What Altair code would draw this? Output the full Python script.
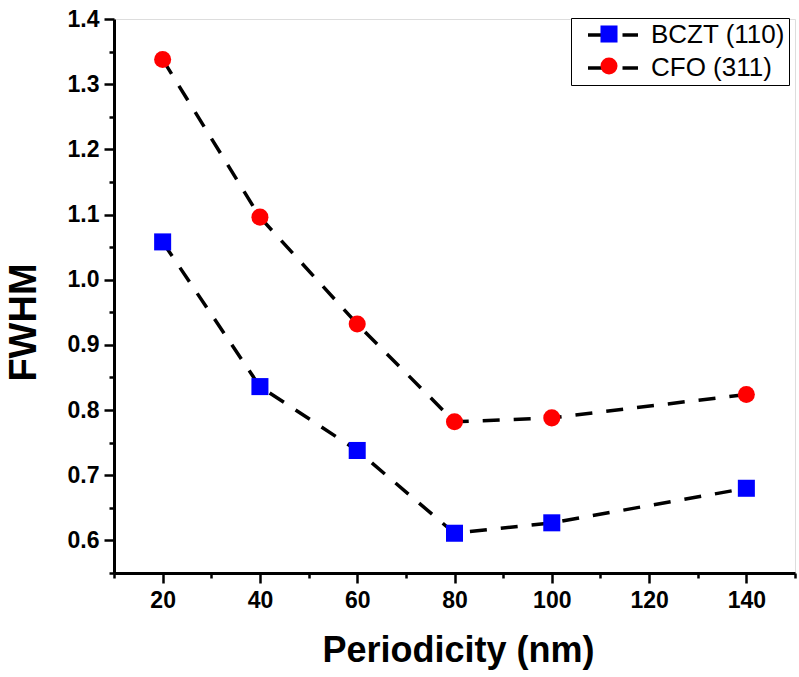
import altair as alt
import pandas as pd

periodicity = [20, 40, 60, 80, 100, 140]
bczt = [1.058, 0.836, 0.738, 0.611, 0.627, 0.680]
cfo = [1.338, 1.096, 0.932, 0.782, 0.788, 0.824]
series_names = ["BCZT (110)", "CFO (311)"]
x_major = [20, 40, 60, 80, 100, 120, 140]
x_minor = [10, 30, 50, 70, 90, 110, 130, 150]
y_major = [0.6, 0.7, 0.8, 0.9, 1.0, 1.1, 1.2, 1.3, 1.4]
y_minor = [0.55, 0.65, 0.75, 0.85, 0.95, 1.05, 1.15, 1.25, 1.35]

rows = []
for p, v in zip(periodicity, bczt):
    rows.append({"p": p, "fwhm": v, "series": series_names[0], "line": series_names[0]})
for p, v in zip(periodicity, cfo):
    rows.append({"p": p, "fwhm": v, "series": series_names[1], "line": series_names[1]})
df = pd.DataFrame(rows)

FONT = "Liberation Sans"
xscale = alt.Scale(domain=[10, 150], nice=False, zero=False)
yscale = alt.Scale(domain=[0.55, 1.4], nice=False, zero=False)

base = alt.Chart(df)

lines = base.mark_line(color="black", strokeWidth=3.5, strokeDash=[17, 14]).encode(
    x=alt.X("p:Q", scale=xscale, axis=alt.Axis(
        orient="bottom", values=x_major, title="Periodicity (nm)", tickSize=10, tickWidth=2.5,
        domainWidth=3, domainColor="black", tickColor="black", labelFont=FONT, labelFontSize=23,
        labelFontWeight="bold", labelColor="black", labelPadding=6, titleFont=FONT, titleFontSize=36,
        titleFontWeight="bold", titleColor="black", titlePadding=21, titleX=344, grid=False)),
    y=alt.Y("fwhm:Q", scale=yscale, axis=alt.Axis(
        orient="left", values=y_major, format=".1f", title="FWHM", tickSize=10, tickWidth=2.5,
        domainWidth=3, domainColor="black", tickColor="black", labelFont=FONT, labelFontSize=23,
        labelFontWeight="bold", labelColor="black", labelPadding=5, titleFont=FONT, titleFontSize=38,
        titleFontWeight="bold", titleColor="black", titlePadding=24, titleY=303, grid=False)),
    stroke=alt.Stroke("line:N", scale=alt.Scale(domain=series_names, range=["black", "black"]),
                      legend=alt.Legend(
                          title=None, orient="none", legendX=457, legendY=-1,
                          symbolType="M-2.5,0H-0.95M0.95,0H2.5", symbolSize=400, symbolStrokeWidth=3.5,
                          symbolDash=[1, 0], symbolFillColor="transparent", symbolStrokeColor="black",
                          symbolOffset=25,
                          labelFont=FONT, labelFontSize=26, labelColor="black", labelOffset=25,
                          rowPadding=7, padding=4, strokeColor="black", fillColor="white",
                          labelLimit=300)),
)

legend_pts = alt.Legend(
    title=None, orient="none", legendX=480, legendY=0,
    symbolSize=290, symbolStrokeWidth=0, labelExpr="''", labelFontSize=1,
    labelOffset=0, rowPadding=14, padding=6)

points = base.mark_point(filled=True, size=290, opacity=1).encode(
    x=alt.X("p:Q", scale=xscale, axis=None),
    y=alt.Y("fwhm:Q", scale=yscale, axis=None),
    fill=alt.Fill("series:N", scale=alt.Scale(domain=series_names, range=["#0000ff", "#ff0000"]),
                  legend=legend_pts),
    shape=alt.Shape("series:N", scale=alt.Scale(domain=series_names, range=["square", "circle"]),
                    legend=legend_pts),
)

minor = base.mark_line(opacity=0).encode(
    x=alt.X("p:Q", scale=xscale, axis=alt.Axis(
        orient="bottom", values=x_minor, labels=False, domain=False, title=None, tickSize=5,
        tickWidth=2.5, tickColor="black", grid=False)),
    y=alt.Y("fwhm:Q", scale=yscale, axis=alt.Axis(
        orient="left", values=y_minor, labels=False, domain=False, title=None, tickSize=5,
        tickWidth=2.5, tickColor="black", grid=False)),
    detail="series:N",
)

chart = alt.layer(minor, lines, points).resolve_axis(
    x="independent", y="independent"
).resolve_scale(x="shared", y="shared").resolve_legend(
    stroke="independent", fill="independent", shape="independent"
).properties(
    width=681, height=554,
    autosize=alt.AutoSizeParams(type="none"),
    padding={"left": 114, "top": 19, "right": 4, "bottom": 104},
).configure_view(stroke="black", strokeWidth=2.5).configure(background="white")

chart.save("out.html", embed_options={"renderer": "svg", "actions": False})
